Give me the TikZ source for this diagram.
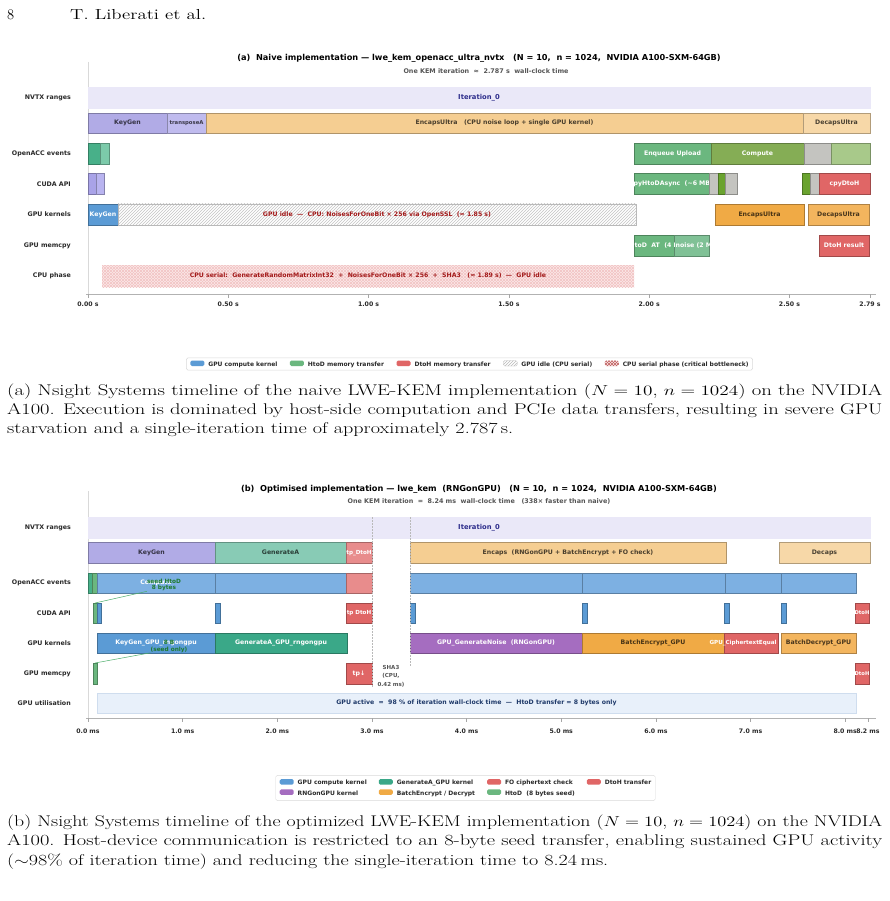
\documentclass[tikz,border=0pt]{standalone}
\usepackage{fontspec}
\usepackage{graphicx}
\newfontfamily\dvs{DejaVu Sans}
\usetikzlibrary{patterns}
\definecolor{txt}{HTML}{2A2A2A}
\definecolor{subgray}{HTML}{555555}
\definecolor{nvtxbg}{HTML}{EAE8F8}
\definecolor{nvtxtx}{HTML}{2E2E8C}
\definecolor{kgp}{HTML}{B1ABE6}
\definecolor{tpa}{HTML}{C0BBEE}
\definecolor{encl}{HTML}{F5CE92}
\definecolor{decl}{HTML}{F7D8A8}
\definecolor{accg}{HTML}{48B089}
\definecolor{accgl}{HTML}{7CCAAA}
\definecolor{upg}{HTML}{6BB77F}
\definecolor{cmpg}{HTML}{85AD55}
\definecolor{gry}{HTML}{C4C4C0}
\definecolor{lgr}{HTML}{A8C98A}
\definecolor{cudp}{HTML}{A9A3E8}
\definecolor{cudpl}{HTML}{B9B4F0}
\definecolor{dkg}{HTML}{6AA32F}
\definecolor{red1}{HTML}{E06666}
\definecolor{redl}{HTML}{E88C8C}
\definecolor{blu}{HTML}{5B9BD5}
\definecolor{blul}{HTML}{7DB0E2}
\definecolor{ora}{HTML}{F0AA45}
\definecolor{oral}{HTML}{F3B55E}
\definecolor{memg}{HTML}{6BB77F}
\definecolor{memgl}{HTML}{80C196}
\definecolor{pinkbg}{HTML}{FBE8E8}
\definecolor{pinkhx}{HTML}{F2C4C4}
\definecolor{dred}{HTML}{A31A1A}
\definecolor{gena}{HTML}{88CBB5}
\definecolor{tealk}{HTML}{3AA888}
\definecolor{purp}{HTML}{A56DC0}
\definecolor{utilbg}{HTML}{E8F0FA}
\definecolor{utilbd}{HTML}{CFDDEE}
\definecolor{utiltx}{HTML}{1F3A6A}
\definecolor{annog}{HTML}{1E7A2E}
\definecolor{annolc}{HTML}{4CAE6A}
\definecolor{hatchc}{HTML}{C4C4C4}
\newcommand\segfont{\dvs\bfseries\fontsize{6.2}{7}\selectfont}
\newcommand\lblfont{\dvs\bfseries\fontsize{6.3}{7}\selectfont}
\newcommand\tickfont{\dvs\bfseries\fontsize{6.2}{7}\selectfont}
\newcommand\titfont{\dvs\bfseries\fontsize{8.2}{9}\selectfont}
\newcommand\subfont{\dvs\bfseries\fontsize{6.4}{7}\selectfont}
\newcommand\legfont{\dvs\bfseries\fontsize{6}{7}\selectfont}
\newcommand\capfont{\fontsize{15.5}{19}\selectfont}
\newcommand\hdfont{\fontsize{14.5}{17}\selectfont}
\newcommand\seg[7]{\node[seg=#6,minimum width={(#4)-(#2)},minimum height={(#5)-(#3)},anchor=north west] (#1) at (#2,#3) {\makebox[0pt]{#7}};}
\newcommand\sw[1]{\tikz[baseline={(0,0.3)},x=1pt,y=1pt]{\path[#1] (0,0) rectangle (14,5.5);}}
\tikzset{
 seg/.style={fill=#1, draw=#1!72!black, line width=0.4pt, inner sep=0pt, outer sep=0pt, font=\segfont, text=#1!30!black, text height=4.5pt, text depth=1pt},
 segtxt/.style={inner sep=0pt, font=\segfont, text=white, text height=4.5pt, text depth=1pt},
 idlebox/.style={preaction={fill=white}, pattern=north east lines, pattern color=hatchc, draw=gray!55, line width=0.4pt, inner sep=0pt, outer sep=0pt, font=\segfont, text=dred, text height=4.5pt, text depth=1pt},
 cpubox/.style={fill=pinkbg, postaction={pattern=north east lines, pattern color=pinkhx}, postaction={pattern=north west lines, pattern color=pinkhx}, inner sep=0pt, outer sep=0pt, font=\segfont, text=dred, text height=4.5pt, text depth=1pt},
 rowlbl/.style={anchor=east, font=\lblfont, text=txt, inner sep=0pt},
 ticklbl/.style={font=\tickfont, text=txt, inner sep=0pt},
 tickmark/.style={draw=gray!70, line width=0.5pt},
 axisln/.style={draw=gray!60, line width=0.6pt},
 spine/.style={draw=gray!30, line width=0.5pt},
 capline/.style={anchor=base west, inner sep=0pt, font=\capfont},
 legbox/.style={draw=gray!30, fill=white, rounded corners=1.5pt, inner xsep=4pt, inner ysep=2.5pt, font=\legfont, text=txt},
 vdash/.style={draw=gray!55, dash pattern=on 1.5pt off 1.5pt, line width=0.5pt},
 anno/.style={font=\dvs\bfseries\fontsize{5.8}{6.6}\selectfont, text=annog, align=center, inner sep=0pt},
 annoline/.style={draw=annolc, line width=0.5pt},
 ttl/.style={font=\titfont, text=black, inner sep=0pt},
 subttl/.style={font=\subfont, text=subgray, inner sep=0pt},
}
\begin{document}
\begin{tikzpicture}[x=1pt,y=-1pt]
\useasboundingbox (0,0) rectangle (889,901);
\fill[white] (0,0) rectangle (889,901);

% ---------- header ----------
\node[anchor=base west, inner sep=0pt, font=\hdfont] (pgno) at (7,19.5) {8};
\node[anchor=base west, inner sep=0pt, font=\hdfont] (runhd) at (70,19.5) {\resizebox{136pt}{\height}{T. Liberati et al.}};

% ================= PANEL (a) =================
\node[ttl] (a-title) at (479,58) {(a)~~Naive implementation — lwe\_kem\_openacc\_ultra\_nvtx~~~(N = 10,~~n = 1024,~~NVIDIA A100-SXM-64GB)};
\node[subttl] (a-sub) at (486,71) {One KEM iteration~~≈~~2.787 s~~wall-clock time};
\draw[spine] (88,62) -- (88,294);

\node[rowlbl] (a-l1) at (71,98) {NVTX ranges};
\node[rowlbl] (a-l2) at (71,154) {OpenACC events};
\node[rowlbl] (a-l3) at (71,184) {CUDA API};
\node[rowlbl] (a-l4) at (71,214.5) {GPU kernels};
\node[rowlbl] (a-l5) at (71,245.5) {GPU memcpy};
\node[rowlbl] (a-l6) at (71,276) {CPU phase};

\seg{a-iter}{88}{87}{870}{108}{nvtxbg,draw=nvtxbg,text=nvtxtx,font=\dvs\bfseries\fontsize{6.8}{7.5}\selectfont}{Iteration\_0}
\seg{a-kg}{88}{113}{167}{133}{kgp}{KeyGen}
\seg{a-tp}{167}{113}{206}{133}{tpa,font=\dvs\bfseries\fontsize{5.3}{6}\selectfont}{transposeA}
\seg{a-enc}{206}{113}{803}{133}{encl}{EncapsUltra~~~(CPU noise loop + single GPU kernel)}
\seg{a-dec}{803}{113}{870}{133}{decl}{DecapsUltra}

\seg{a-o1}{88}{143}{100}{164}{accg}{}
\seg{a-o2}{100}{143}{109}{164}{accgl}{}
\seg{a-o3}{634}{143}{711}{164}{upg,text=white}{Enqueue Upload}
\seg{a-o4}{711}{143}{804}{164}{cmpg,text=white}{Compute}
\seg{a-o5}{804}{143}{831}{164}{gry}{}
\seg{a-o6}{831}{143}{870}{164}{lgr}{}

\seg{a-c1}{88}{173}{96}{194}{cudp}{}
\seg{a-c2}{96}{173}{104}{194}{cudpl}{}
\seg{a-c3}{634}{173}{709}{194}{upg}{}
\begin{scope}
\clip (634,173) rectangle (709,194);
\node[segtxt] (a-c3t) at (671.5,183.5) {cpyHtoDAsync~~(∼6 MB)};
\end{scope}
\seg{a-c4}{709}{173}{718}{194}{gry}{}
\seg{a-c5}{718}{173}{725}{194}{dkg}{}
\seg{a-c6}{725}{173}{737}{194}{gry}{}
\seg{a-c7}{802}{173}{810}{194}{dkg}{}
\seg{a-c8}{810}{173}{819}{194}{gry}{}
\seg{a-c9}{819}{173}{870}{194}{red1,text=white}{cpyDtoH}

\seg{a-k1}{88}{204}{118}{225}{blu,text=white}{KeyGen}
\node[idlebox,minimum width=518pt,minimum height=21pt,anchor=north west] (a-idle) at (118,204) {\makebox[0pt]{GPU idle~~—~~CPU: NoisesForOneBit × 256 via OpenSSL~~(≈ 1.85 s)}};
\seg{a-k3}{715}{204}{804}{225}{ora}{EncapsUltra}
\seg{a-k4}{808}{204}{869}{225}{oral}{DecapsUltra}

\seg{a-m1}{634}{235}{674}{256}{memg}{}
\seg{a-m2}{674}{235}{709}{256}{memgl}{}
\begin{scope}
\clip (634,235) rectangle (674,256);
\node[segtxt,anchor=west] (a-m1t) at (634.5,245.5) {toD~~AT~~(4 MB)};
\end{scope}
\begin{scope}
\clip (674,235) rectangle (709,256);
\node[segtxt,anchor=west] (a-m2t) at (675.5,245.5) {noise (2 MB)};
\end{scope}
\seg{a-m3}{819}{235}{869}{256}{red1,text=white}{DtoH result}

\node[cpubox,minimum width=532pt,minimum height=22pt,anchor=north west] (a-cpu) at (102,265) {\makebox[0pt]{CPU serial:~~GenerateRandomMatrixInt32~~+~~NoisesForOneBit × 256~~+~~SHA3~~~(≈ 1.89 s)~~—~~GPU idle}};

\draw[axisln] (86,294) -- (876,294);
\foreach \t/\l [count=\i] in {0/0.00 s,0.5/0.50 s,1/1.00 s,1.5/1.50 s,2/2.00 s,2.5/2.50 s,2.787/2.79 s}{
  \draw[tickmark] ({88+280.6*\t},294) -- ({88+280.6*\t},297.5);
  \node[ticklbl] (a-t\i) at ({88+280.6*\t},304) {\l};
}

\node[legbox] (a-leg) at (469.5,364) {\sw{fill=blu}\hspace{4pt}GPU compute kernel\hspace{12.5pt}\sw{fill=memg}\hspace{4pt}HtoD memory transfer\hspace{12.5pt}\sw{fill=red1}\hspace{4pt}DtoH memory transfer\hspace{12.5pt}\sw{draw=gray!50,line width=0.3pt,pattern=north east lines,pattern color=gray!55}\hspace{4pt}GPU idle (CPU serial)\hspace{12.5pt}\sw{fill=pinkbg,postaction={pattern=north east lines,pattern color=dred!70},postaction={pattern=north west lines,pattern color=dred!70}}\hspace{4pt}CPU serial phase (critical bottleneck)};

\node[capline] (capa1) at (7,395.5) {\resizebox{875pt}{\height}{(a) Nsight Systems timeline of the naive LWE-KEM implementation ($N = 10$, $n = 1024$) on the NVIDIA}};
\node[capline] (capa2) at (7,414.5) {\resizebox{875pt}{\height}{A100. Execution is dominated by host-side computation and PCIe data transfers, resulting in severe GPU}};
\node[capline] (capa3) at (7,433.5) {\resizebox{506pt}{\height}{starvation and a single-iteration time of approximately 2.787\,s.}};

% ================= PANEL (b) =================
\node[ttl] (b-title) at (479,489) {(b)~~Optimised implementation — lwe\_kem~~(RNGonGPU)~~~(N = 10,~~n = 1024,~~NVIDIA A100-SXM-64GB)};
\node[subttl] (b-sub) at (479,501) {One KEM iteration~~=~~8.24 ms~~wall-clock time~~~(338× faster than naive)};
\draw[spine] (88,491) -- (88,718);

\node[rowlbl] (b-l1) at (71,527.5) {NVTX ranges};
\node[rowlbl] (b-l2) at (71,583) {OpenACC events};
\node[rowlbl] (b-l3) at (71,613) {CUDA API};
\node[rowlbl] (b-l4) at (71,643.5) {GPU kernels};
\node[rowlbl] (b-l5) at (71,673.5) {GPU memcpy};
\node[rowlbl] (b-l6) at (71,703.5) {GPU utilisation};

\seg{b-iter}{88}{517}{870}{538}{nvtxbg,draw=nvtxbg,text=nvtxtx,font=\dvs\bfseries\fontsize{6.8}{7.5}\selectfont}{Iteration\_0}
\seg{b-kg}{88}{542}{215}{563}{kgp}{KeyGen}
\seg{b-ga}{215}{542}{346}{563}{gena}{GenerateA}
\seg{b-td}{346}{542}{372}{563}{redl,text=white,font=\dvs\bfseries\fontsize{5.6}{6.5}\selectfont}{tp\_DtoH}
\seg{b-enc}{410}{542}{726}{563}{encl}{Encaps~~(RNGonGPU + BatchEncrypt + FO check)}
\seg{b-dec}{779}{542}{870}{563}{decl}{Decaps}

\seg{b-o1}{88}{573}{92}{593}{accg}{}
\seg{b-o2}{92}{573}{97}{593}{upg}{}
\seg{b-o3}{97}{573}{215}{593}{blul,text=white}{Compute}
\seg{b-o4}{215}{573}{346}{593}{blul}{}
\seg{b-o5}{346}{573}{372}{593}{redl}{}
\seg{b-o6}{410}{573}{582}{593}{blul}{}
\seg{b-o7}{582}{573}{725}{593}{blul}{}
\seg{b-o8}{725}{573}{781}{593}{blul}{}
\seg{b-o9}{781}{573}{856}{593}{blul}{}

\seg{b-c1}{93}{603}{97}{623}{upg}{}
\seg{b-c2}{97}{603}{101}{623}{blu}{}
\seg{b-c3}{215}{603}{220}{623}{blu}{}
\seg{b-c4}{346}{603}{372}{623}{red1,text=white,font=\dvs\bfseries\fontsize{5.6}{6.5}\selectfont}{tp DtoH}
\seg{b-c5}{410}{603}{415}{623}{blu}{}
\seg{b-c6}{582}{603}{587}{623}{blu}{}
\seg{b-c7}{724}{603}{729}{623}{blu}{}
\seg{b-c8}{781}{603}{786}{623}{blu}{}
\seg{b-c9}{855}{603}{869}{623}{red1,text=white,font=\dvs\bfseries\fontsize{5.2}{6}\selectfont}{DtoH}

\seg{b-k1}{97}{633}{215}{653}{blu,text=white}{KeyGen\_GPU\_rngongpu}
\seg{b-k2}{215}{633}{347}{653}{tealk,text=white}{GenerateA\_GPU\_rngongpu}
\seg{b-k3}{410}{633}{582}{653}{purp,text=white}{GPU\_GenerateNoise~~(RNGonGPU)}
\seg{b-k4}{582}{633}{724}{653}{ora}{BatchEncrypt\_GPU}
\seg{b-k5}{724}{633}{778}{653}{red1,text=white,font=\dvs\bfseries\fontsize{5.6}{6.5}\selectfont}{\hspace*{-16pt}GPU\_CiphertextEqual}
\seg{b-k6}{781}{633}{856}{653}{oral}{BatchDecrypt\_GPU}

\seg{b-m1}{93}{663}{97}{684}{upg}{}
\seg{b-m2}{346}{663}{372}{684}{red1,text=white}{tp↓}
\seg{b-m3}{855}{663}{869}{684}{red1,text=white,font=\dvs\bfseries\fontsize{5.2}{6}\selectfont}{DtoH}

\draw[vdash] (372,517) -- (372,688);
\draw[vdash] (410,517) -- (410,666);
\node[inner sep=0pt, align=center, font=\dvs\bfseries\fontsize{5.5}{8.6}\selectfont, text=subgray] (b-sha) at (391,676) {SHA3\\(CPU,\\0.42 ms)};

\seg{b-util}{97}{693}{856}{713}{utilbg,draw=utilbd,text=utiltx}{GPU active~~=~~98 \% of iteration wall-clock time~~—~~HtoD transfer = 8 bytes only}

\draw[axisln] (86,718) -- (876,718);
\foreach \t/\l [count=\i] in {0/0.0 ms,1/1.0 ms,2/2.0 ms,3/3.0 ms,4/4.0 ms,5/5.0 ms,6/6.0 ms,7/7.0 ms,8/8.0 ms,8.24/8.2 ms}{
  \draw[tickmark] ({88+94.65*\t},718) -- ({88+94.65*\t},721.5);
  \node[ticklbl] (b-t\i) at ({88+94.65*\t},731) {\l};
}

% annotations
\node[anno] (b-an1) at (164,585) {seed HtoD\\8 bytes};
\draw[annoline] (b-c1.north) -- (b-an1.south west);
\node[anno] (b-an2) at (169,646.5) {8 B\\(seed only)};
\draw[annoline] (b-m1.north) -- (b-an2.south west);

\node[legbox] (b-leg) at (465.5,788) {\def\arraystretch{1.45}\begin{tabular}{@{}l@{\hspace{12pt}}l@{\hspace{12pt}}l@{\hspace{12pt}}l@{}}
\sw{fill=blu}\hspace{4pt}GPU compute kernel & \sw{fill=tealk}\hspace{4pt}GenerateA\_GPU kernel & \sw{fill=red1}\hspace{4pt}FO ciphertext check & \sw{fill=red1}\hspace{4pt}DtoH transfer\\
\sw{fill=purp}\hspace{4pt}RNGonGPU kernel & \sw{fill=ora}\hspace{4pt}BatchEncrypt / Decrypt & \sw{fill=memg}\hspace{4pt}HtoD~~(8 bytes seed) & \\
\end{tabular}};

\node[capline] (capb1) at (7,826.5) {\resizebox{875pt}{\height}{(b) Nsight Systems timeline of the optimized LWE-KEM implementation ($N = 10$, $n = 1024$) on the NVIDIA}};
\node[capline] (capb2) at (7,845.5) {\resizebox{875pt}{\height}{A100. Host-device communication is restricted to an 8-byte seed transfer, enabling sustained GPU activity}};
\node[capline] (capb3) at (7,865) {\resizebox{601pt}{\height}{($\sim$98\% of iteration time) and reducing the single-iteration time to 8.24\,ms.}};
\end{tikzpicture}
\end{document}
